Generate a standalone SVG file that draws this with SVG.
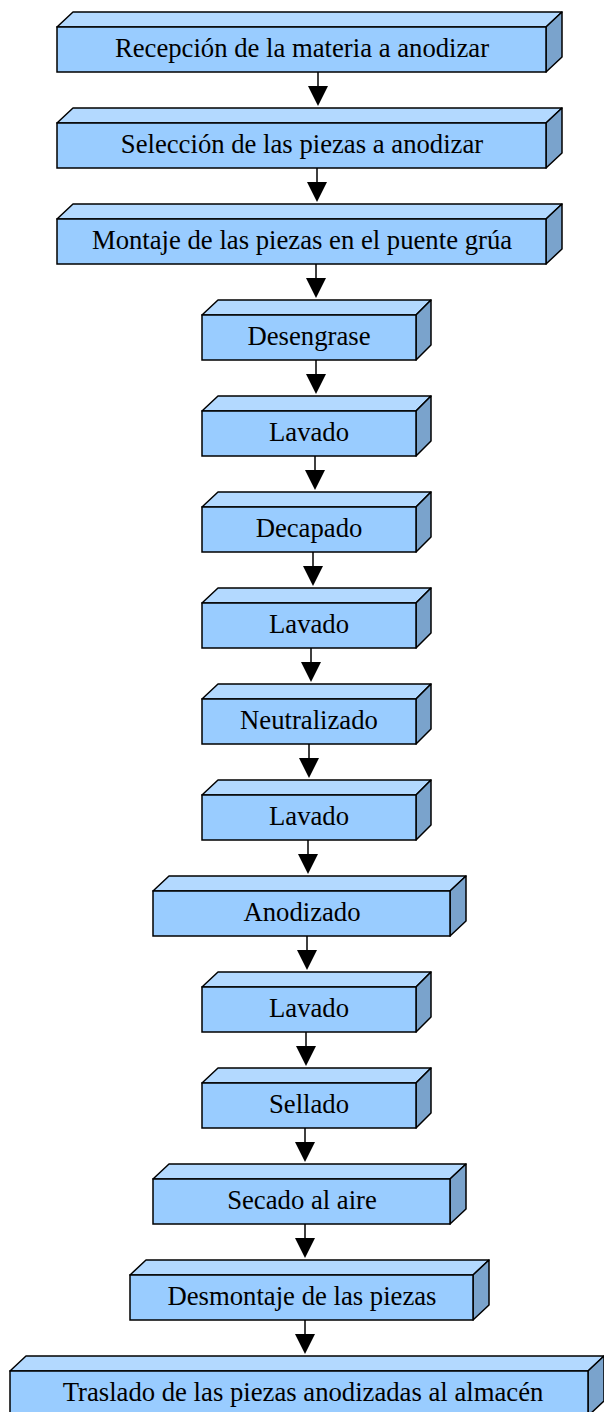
<svg xmlns="http://www.w3.org/2000/svg" width="604" height="1412" viewBox="0 0 604 1412">
<style>
.f{fill:#99CCFF;stroke:#000;stroke-width:1.5}
.t{fill:#B3D9FF;stroke:#000;stroke-width:1.5;stroke-linejoin:round}
.s{fill:#7AA3CC;stroke:#000;stroke-width:1.5;stroke-linejoin:round}
.l{font-family:"Liberation Serif","Times New Roman",serif;font-size:26.7px;fill:#000;text-anchor:middle}
.c{stroke:#000;stroke-width:1.5;fill:none}
.h{fill:#000}
</style>
<rect width="604" height="1412" fill="#fff"/>
<g id="n1"><polygon class="t" points="57,27 73,12 562,12 546,27"/><polygon class="s" points="546,27 562,12 562,57 546,72"/><rect class="f" x="57" y="27" width="489" height="45"/><text class="l" x="302" y="56.5">Recepción de la materia a anodizar</text></g>
<g id="n2"><polygon class="t" points="57,123 73,108 562,108 546,123"/><polygon class="s" points="546,123 562,108 562,153 546,168"/><rect class="f" x="57" y="123" width="489" height="45"/><text class="l" x="302" y="152.5">Selección de las piezas a anodizar</text></g>
<g id="n3"><polygon class="t" points="57,219 73,204 562,204 546,219"/><polygon class="s" points="546,219 562,204 562,249 546,264"/><rect class="f" x="57" y="219" width="489" height="45"/><text class="l" x="302" y="248.5">Montaje de las piezas en el puente grúa</text></g>
<g id="n4"><polygon class="t" points="202,315 218,300 431,300 416,315"/><polygon class="s" points="416,315 431,300 431,345 416,360"/><rect class="f" x="202" y="315" width="214" height="45"/><text class="l" x="309" y="344.5">Desengrase</text></g>
<g id="n5"><polygon class="t" points="202,411 218,396 431,396 416,411"/><polygon class="s" points="416,411 431,396 431,441 416,456"/><rect class="f" x="202" y="411" width="214" height="45"/><text class="l" x="309" y="440.5">Lavado</text></g>
<g id="n6"><polygon class="t" points="202,507 218,492 431,492 416,507"/><polygon class="s" points="416,507 431,492 431,537 416,552"/><rect class="f" x="202" y="507" width="214" height="45"/><text class="l" x="309" y="536.5">Decapado</text></g>
<g id="n7"><polygon class="t" points="202,603 218,588 431,588 416,603"/><polygon class="s" points="416,603 431,588 431,633 416,648"/><rect class="f" x="202" y="603" width="214" height="45"/><text class="l" x="309" y="632.5">Lavado</text></g>
<g id="n8"><polygon class="t" points="202,699 218,684 431,684 416,699"/><polygon class="s" points="416,699 431,684 431,729 416,744"/><rect class="f" x="202" y="699" width="214" height="45"/><text class="l" x="309" y="728.5">Neutralizado</text></g>
<g id="n9"><polygon class="t" points="202,795 218,780 431,780 416,795"/><polygon class="s" points="416,795 431,780 431,825 416,840"/><rect class="f" x="202" y="795" width="214" height="45"/><text class="l" x="309" y="824.5">Lavado</text></g>
<g id="n10"><polygon class="t" points="153,891 169,876 466,876 450,891"/><polygon class="s" points="450,891 466,876 466,921 450,936"/><rect class="f" x="153" y="891" width="297" height="45"/><text class="l" x="302" y="920.5">Anodizado</text></g>
<g id="n11"><polygon class="t" points="202,987 218,972 431,972 416,987"/><polygon class="s" points="416,987 431,972 431,1017 416,1032"/><rect class="f" x="202" y="987" width="214" height="45"/><text class="l" x="309" y="1016.5">Lavado</text></g>
<g id="n12"><polygon class="t" points="202,1083 218,1068 431,1068 416,1083"/><polygon class="s" points="416,1083 431,1068 431,1113 416,1128"/><rect class="f" x="202" y="1083" width="214" height="45"/><text class="l" x="309" y="1112.5">Sellado</text></g>
<g id="n13"><polygon class="t" points="153,1179 169,1164 466,1164 450,1179"/><polygon class="s" points="450,1179 466,1164 466,1209 450,1224"/><rect class="f" x="153" y="1179" width="297" height="45"/><text class="l" x="302" y="1208.5">Secado al aire</text></g>
<g id="n14"><polygon class="t" points="130,1275 146,1260 489,1260 473,1275"/><polygon class="s" points="473,1275 489,1260 489,1305 473,1320"/><rect class="f" x="130" y="1275" width="343" height="45"/><text class="l" x="302" y="1304.5">Desmontaje de las piezas</text></g>
<g id="n15"><polygon class="t" points="10,1371 26,1356 604,1356 588,1371"/><polygon class="s" points="588,1371 604,1356 604,1401 588,1416"/><rect class="f" x="10" y="1371" width="578" height="45"/><text class="l" x="303" y="1400.5">Traslado de las piezas anodizadas al almacén</text></g>
<g id="connectors">
<path class="c" d="M318,72V88M317,168V184M316,264V280M316,360V376M315,456V472M313,552V568M311,648V664M309,744V760M308,840V856M307,936V952M306,1032V1048M305,1128V1144M305,1224V1240M305,1320V1336"/>
<polygon class="h" points="308,86 328,86 318,106"/>
<polygon class="h" points="307,182 327,182 317,202"/>
<polygon class="h" points="306,278 326,278 316,298"/>
<polygon class="h" points="306,374 326,374 316,394"/>
<polygon class="h" points="305,470 325,470 315,490"/>
<polygon class="h" points="303,566 323,566 313,586"/>
<polygon class="h" points="301,662 321,662 311,682"/>
<polygon class="h" points="299,758 319,758 309,778"/>
<polygon class="h" points="298,854 318,854 308,874"/>
<polygon class="h" points="297,950 317,950 307,970"/>
<polygon class="h" points="296,1046 316,1046 306,1066"/>
<polygon class="h" points="295,1142 315,1142 305,1162"/>
<polygon class="h" points="295,1238 315,1238 305,1258"/>
<polygon class="h" points="295,1334 315,1334 305,1354"/>
</g>
</svg>
